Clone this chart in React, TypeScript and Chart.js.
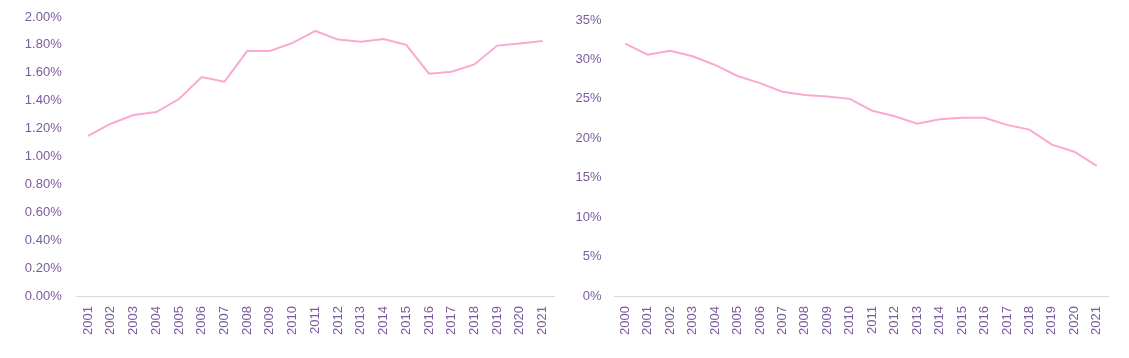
import React, { useEffect, useRef } from "react";
import { Chart, registerables } from "chart.js";

Chart.register(...registerables);

const leftYears = ["2001","2002","2003","2004","2005","2006","2007","2008","2009","2010","2011","2012","2013","2014","2015","2016","2017","2018","2019","2020","2021"];
const leftValues = [1.147,1.235,1.297,1.319,1.412,1.570,1.536,1.756,1.756,1.814,1.900,1.838,1.822,1.842,1.800,1.594,1.608,1.660,1.795,1.810,1.828];

const rightYears = ["2000","2001","2002","2003","2004","2005","2006","2007","2008","2009","2010","2011","2012","2013","2014","2015","2016","2017","2018","2019","2020","2021"];
const rightValues = [32.0,30.6,31.1,30.4,29.3,27.9,27.0,25.9,25.5,25.3,25.0,23.5,22.8,21.85,22.4,22.6,22.6,21.7,21.1,19.2,18.3,16.5];

const TEXT = "#7a5b9c";
const LINE = "#fba8d3";
const AXIS = "#d9d9d9";
const FONT = { family: "'Liberation Sans', Arial, sans-serif", size: 13 };

type Cfg = {
  labels: string[];
  values: number[];
  max: number;
  step: number;
  fmt: (v: number) => string;
  yWidth: number;
  yPad: number;
  padRight: number;
  padTop: number;
  xHeight: number;
};

const zeroPad = (s: any) => {
  s.paddingTop = 0;
  s.paddingBottom = 0;
  s.paddingLeft = 0;
  s.paddingRight = 0;
};

function LineChart({ cfg, left, width }: { cfg: Cfg; left: number; width: number }) {
  const ref = useRef<HTMLCanvasElement>(null);
  useEffect(() => {
    const chart = new Chart(ref.current!, {
      type: "line",
      data: {
        labels: cfg.labels,
        datasets: [
          {
            data: cfg.values,
            borderColor: LINE,
            borderWidth: 2,
            pointRadius: 0,
            tension: 0,
            fill: false,
          },
        ],
      },
      options: {
        animation: false,
        responsive: false,
        maintainAspectRatio: false,
        layout: { padding: { left: 0, right: cfg.padRight, top: cfg.padTop, bottom: 0 } },
        plugins: { legend: { display: false }, tooltip: { enabled: false } },
        scales: {
          x: {
            offset: true,
            grid: { display: false, drawTicks: false, tickLength: 0 },
            border: { display: true, color: AXIS, width: 1 },
            ticks: {
              color: TEXT,
              font: FONT,
              minRotation: 90,
              maxRotation: 90,
              autoSkip: false,
              padding: 10,
            },
            afterFit: (s: any) => {
              s.height = cfg.xHeight;
              zeroPad(s);
            },
          },
          y: {
            min: 0,
            max: cfg.max,
            grid: { display: false, drawTicks: false, tickLength: 0 },
            border: { display: false },
            ticks: {
              stepSize: cfg.step,
              color: TEXT,
              font: FONT,
              padding: cfg.yPad,
              callback: (v: any) => cfg.fmt(Number(v)),
            },
            afterFit: (s: any) => {
              s.width = cfg.yWidth;
              zeroPad(s);
            },
          },
        },
      },
    });
    return () => chart.destroy();
  }, []);
  return (
    <canvas
      ref={ref}
      width={width}
      height={358}
      style={{ position: "absolute", left, top: 0, width, height: 358 }}
    />
  );
}

export default function App() {
  const leftCfg: Cfg = {
    labels: leftYears,
    values: leftValues,
    max: 2.0,
    step: 0.2,
    fmt: (v) => v.toFixed(2) + "%",
    yWidth: 76.7,
    yPad: 15,
    padRight: 564 - 554,
    padTop: 17,
    xHeight: 358 - 296,
  };
  const rightCfg: Cfg = {
    labels: rightYears,
    values: rightValues,
    max: 35,
    step: 5,
    fmt: (v) => Math.round(v) + "%",
    yWidth: 614 - 564,
    yPad: 12.5,
    padRight: 1129 - 1108,
    padTop: 20,
    xHeight: 358 - 296,
  };
  return (
    <div style={{ position: "fixed", left: 0, top: 0, width: 1129, height: 358, background: "#fff" }}>
      <LineChart cfg={leftCfg} left={0} width={564} />
      <LineChart cfg={rightCfg} left={564} width={565} />
    </div>
  );
}
